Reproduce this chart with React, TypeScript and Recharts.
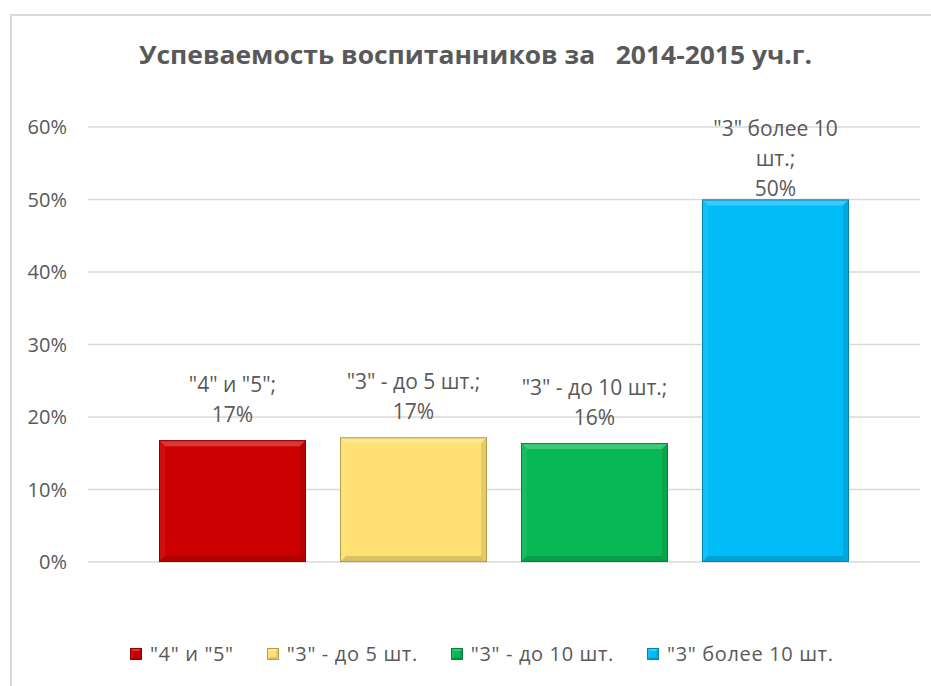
import { BarChart, Bar, XAxis, YAxis, CartesianGrid } from "recharts";

const title = "Успеваемость воспитанников за   2014-2015 уч.г.";
const category = "Успеваемость";

const seriesKeys = ["s45", "s3to5", "s3to10", "s3over10"];
const seriesNames = ['"4" и "5"', '"3" - до 5 шт.', '"3" - до 10 шт.', '"3" более 10 шт.'];
const seriesValues = [0.168, 0.172, 0.164, 0.5];
const seriesColors = ["#CC0000", "#FFE072", "#07B855", "#02BCF8"];
// data label lines as Excel wrapped them
const labelLines = [
  ['"4" и "5";'],
  ['"3" - до 5 шт.;'],
  ['"3" - до 10 шт.;'],
  ['"3" более 10', "шт.;"],
];

const yTicks = [0, 0.1, 0.2, 0.3, 0.4, 0.5, 0.6];

const data = [
  {
    name: category,
    ...Object.fromEntries(seriesKeys.map((k, i) => [k, seriesValues[i]])),
  },
];

const W = 931;
const H = 686;
const PLOT_TOP = 127;
const TEXT = "#595959";
const FONT = "'Open Sans', 'Noto Sans', sans-serif";

function mix(hex: string, target: number, amt: number) {
  const n = parseInt(hex.slice(1), 16);
  const c = [(n >> 16) & 255, (n >> 8) & 255, n & 255].map((v) =>
    Math.round(v + (target - v) * amt)
  );
  return `rgb(${c[0]},${c[1]},${c[2]})`;
}

function Bevel({ x, y, width: w, height: h, fill, b }: any) {
  if (!w || !h) return null;
  return (
    <g>
      <rect x={x} y={y} width={w} height={h} fill={fill} />
      <polygon
        points={`${x},${y} ${x + w},${y} ${x + w - b},${y + b} ${x + b},${y + b}`}
        fill={mix(fill, 255, 0.22)}
      />
      <polygon
        points={`${x},${y} ${x + b},${y + b} ${x + b},${y + h - b} ${x},${y + h}`}
        fill={mix(fill, 255, 0.06)}
      />
      <polygon
        points={`${x + w},${y} ${x + w},${y + h} ${x + w - b},${y + h - b} ${x + w - b},${y + b}`}
        fill={mix(fill, 0, 0.1)}
      />
      <polygon
        points={`${x},${y + h} ${x + w},${y + h} ${x + w - b},${y + h - b} ${x + b},${y + h - b}`}
        fill={mix(fill, 0, 0.14)}
      />
      <rect
        x={x + 0.5}
        y={y + 0.5}
        width={w - 1}
        height={h - 1}
        fill="none"
        stroke={mix(fill, 0, 0.3)}
        strokeWidth={1}
      />
    </g>
  );
}

function BarShape(props: any) {
  return <Bevel {...props} b={6} />;
}

function makeLabel(i: number) {
  return (props: any) => {
    const { x, y, width } = props;
    const lines = [...labelLines[i], `${Math.round(seriesValues[i] * 100)}%`];
    const gap = 30;
    let bottom = y - 25;
    const top = bottom - (lines.length - 1) * gap;
    if (top < PLOT_TOP + 2) bottom += PLOT_TOP + 2 - top;
    const cx = x + width / 2;
    return (
      <g>
        {lines.map((t, k) => (
          <text
            key={k}
            x={cx}
            y={bottom - (lines.length - 1 - k) * gap}
            dy={7}
            textAnchor="middle"
            fill={TEXT}
            fontSize={21}
            fontFamily={FONT}
          >
            {t}
          </text>
        ))}
      </g>
    );
  };
}

function ChartLegend() {
  return (
    <div
      style={{
        position: "absolute",
        left: 130,
        top: 640,
        display: "flex",
        alignItems: "center",
        gap: 33,
        fontFamily: FONT,
      }}
    >
      {seriesNames.map((name, i) => (
        <div key={name} style={{ display: "flex", alignItems: "center", gap: 8 }}>
          <svg width={12} height={12}>
            <Bevel x={0} y={0} width={12} height={12} fill={seriesColors[i]} b={3} />
          </svg>
          <span
            style={{ fontSize: 20, letterSpacing: 0.65, color: TEXT, whiteSpace: "nowrap" }}
          >
            {name}
          </span>
        </div>
      ))}
    </div>
  );
}

export default function App() {
  return (
    <div
      style={{
        position: "fixed",
        left: 0,
        top: 0,
        width: W,
        height: H,
        overflow: "hidden",
        background: "#fff",
      }}
    >
      <div
        style={{
          position: "absolute",
          left: 10,
          top: 14,
          width: 1000,
          height: 800,
          border: "2px solid #d9d9d9",
        }}
      />
      <svg style={{ position: "absolute", left: 0, top: 0 }} width={W} height={100}>
        <text
          x={139}
          y={64}
          textLength={673}
          lengthAdjust="spacingAndGlyphs"
          fill={TEXT}
          fontSize={25}
          fontWeight="bold"
          fontFamily={FONT}
          style={{ whiteSpace: "pre" }}
        >
          {title}
        </text>
      </svg>
      <div style={{ position: "absolute", left: 0, top: 0 }}>
        <BarChart
          width={W}
          height={H}
          data={data}
          margin={{ top: PLOT_TOP, right: 11, bottom: 124, left: 0 }}
          barGap={34}
          barSize={147}
        >
          <CartesianGrid vertical={false} stroke="#d9d9d9" strokeWidth={1.5} />
          <XAxis dataKey="name" hide />
          <YAxis
            width={88}
            domain={[0, 0.6]}
            ticks={yTicks}
            axisLine={false}
            tickLine={false}
            tickSize={0}
            tickMargin={21}
            tickFormatter={(v: number) => `${Math.round(v * 100)}%`}
            tick={{ fill: TEXT, fontSize: 20, fontFamily: FONT }}
          />
          {seriesKeys.map((k, i) => (
            <Bar
              key={k}
              dataKey={k}
              name={seriesNames[i]}
              fill={seriesColors[i]}
              shape={BarShape}
              label={makeLabel(i)}
              isAnimationActive={false}
            />
          ))}
        </BarChart>
      </div>
      <ChartLegend />
    </div>
  );
}
